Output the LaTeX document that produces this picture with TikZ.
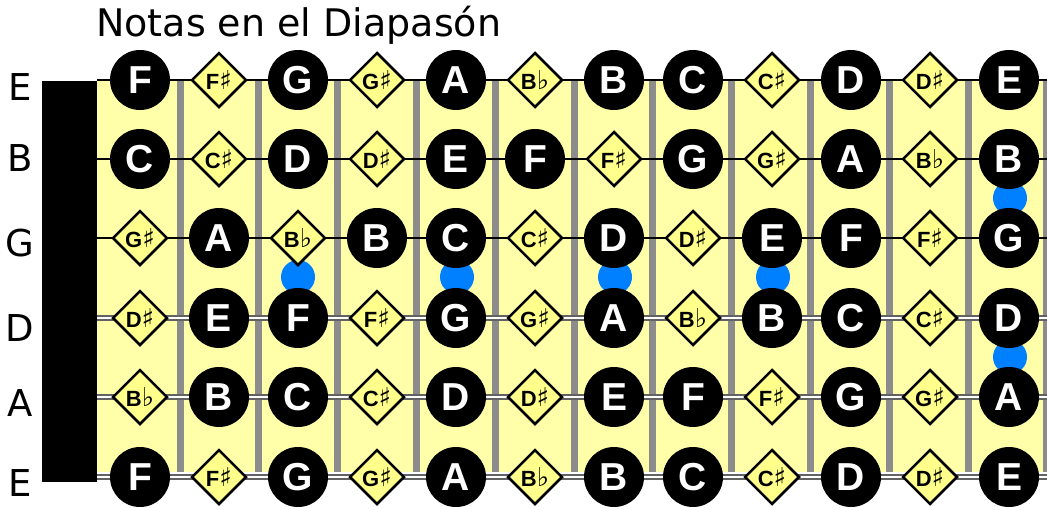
\documentclass[tikz,border=0pt]{standalone}
\usepackage{fontspec}
\setmainfont{DejaVu Sans}
\newfontfamily\notefont{Liberation Sans}
\newfontfamily\symfont{DejaVu Sans}
\usetikzlibrary{shapes.geometric}
\definecolor{board}{RGB}{255,255,170}
\definecolor{accfill}{RGB}{255,255,140}
\definecolor{fretgray}{RGB}{140,140,140}
\definecolor{dotblue}{RGB}{0,128,255}
\newcommand{\accnat}{}
\newcommand{\accshp}{{\symfont\bfseries\fontsize{26}{26}\selectfont ♯}}
\newcommand{\accflt}{{\symfont\bfseries\fontsize{26}{26}\selectfont ♭}}

\begin{document}
\begin{tikzpicture}[x=1pt,y=-1pt,
  nat/.style={circle,fill=black,minimum size=60pt,inner sep=0pt,text=white,font=\notefont\bfseries\fontsize{39}{39}\selectfont},
  shp/.style={diamond,draw=black,line width=2.5pt,fill=accfill,minimum size=55pt,inner sep=0pt,font=\notefont\bfseries\fontsize{22}{22}\selectfont},
  flt/.style={shp},
  dot/.style={circle,fill=dotblue,minimum size=34pt,inner sep=0pt},
  fret/.style={fretgray,line width=7pt},
  plain string/.style={black,line width=1.5pt},
  label/.style={inner sep=0pt,font=\fontsize{37}{37}\selectfont}]
\useasboundingbox (0,0) rectangle (1047,509);
% board and nut
\fill[board] (97,80) rectangle (1047,472);
\foreach \k in {0,...,11}
  \draw[fret] ({180+78.8*\k},80) -- ({180+78.8*\k},472);
% strings
\foreach \y in {80,159,238}
  \draw[plain string] (97,\y) -- (1047,\y);
\foreach \y in {318,397,477}{
  \draw[fretgray!70!black,line width=5.5pt] (97,\y) -- (1047,\y);
  \draw[white,line width=2pt] (97,\y) -- (1047,\y);
}
\fill[black] (42,81) rectangle (97,482);
% blue markers
\node[dot] (d1) at (298,277) {};
\node[dot] (d2) at (457,277) {};
\node[dot] (d3) at (615,277) {};
\node[dot] (d4) at (773,277) {};
\node[dot] (d5) at (1010,198) {};
\node[dot] (d6) at (1010,357) {};
% notes on each string
\foreach \s/\y/\ly/\open/\notes in {
  1/80/87/E/{F/nat,F/shp,G/nat,G/shp,A/nat,B/flt,B/nat,C/nat,C/shp,D/nat,D/shp,E/nat},
  2/159/158/B/{C/nat,C/shp,D/nat,D/shp,E/nat,F/nat,F/shp,G/nat,G/shp,A/nat,B/flt,B/nat},
  3/238/243/G/{G/shp,A/nat,B/flt,B/nat,C/nat,C/shp,D/nat,D/shp,E/nat,F/nat,F/shp,G/nat},
  4/318/328/D/{D/shp,E/nat,F/nat,F/shp,G/nat,G/shp,A/nat,B/flt,B/nat,C/nat,C/shp,D/nat},
  5/397/403/A/{B/flt,B/nat,C/nat,C/shp,D/nat,D/shp,E/nat,F/nat,F/shp,G/nat,G/shp,A/nat},
  6/477/483/E/{F/nat,F/shp,G/nat,G/shp,A/nat,B/flt,B/nat,C/nat,C/shp,D/nat,D/shp,E/nat}}{
  \node[label] (s\s) at (20,\ly) {\open};
  \foreach \l/\k [count=\f] in \notes
    \node[\k] (n\s-\f) at ({140+79*(\f-1)},\y) {\l\csname acc\k\endcsname};
}
\node[anchor=base west,inner sep=0pt,font=\fontsize{38}{38}\selectfont] (title) at (96,36) {Notas en el Diapasón};
\end{tikzpicture}
\end{document}
